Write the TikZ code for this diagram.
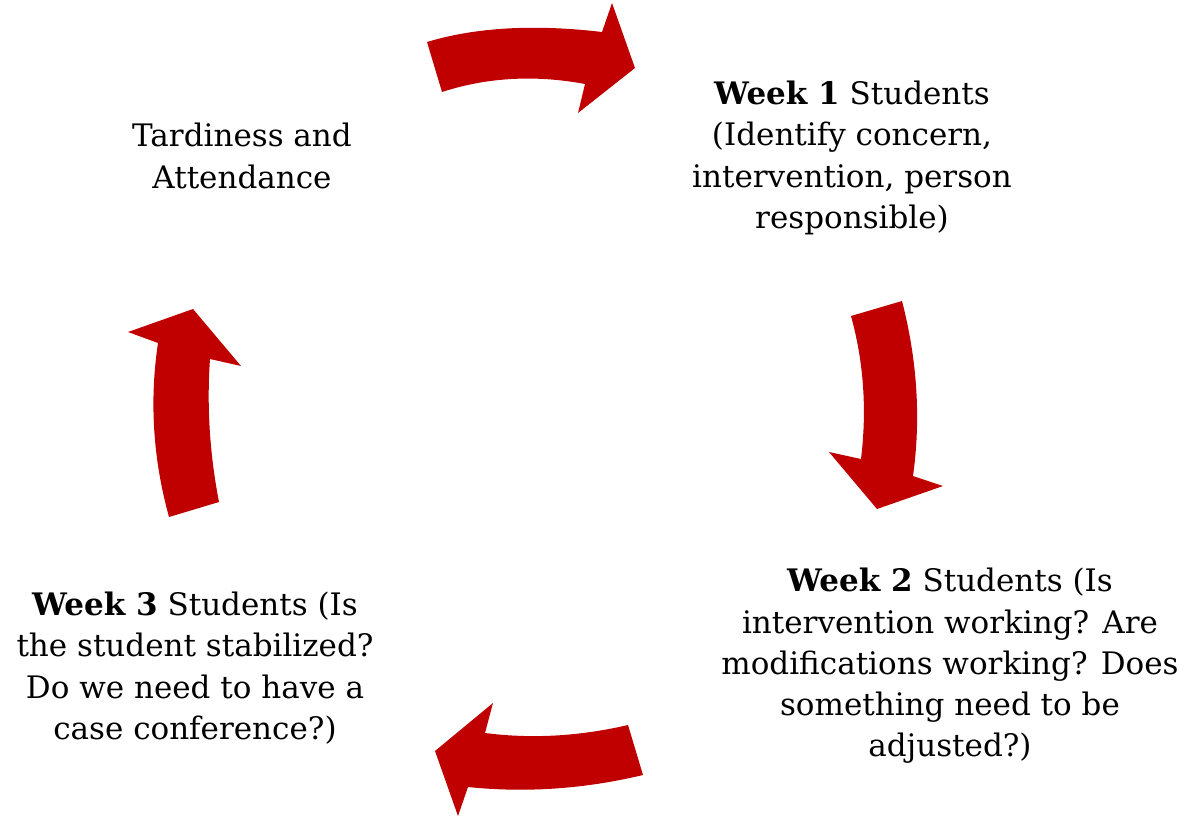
\documentclass[tikz,border=0pt]{standalone}
\usepackage{fontspec}
\setmainfont{DejaVu Serif}
\definecolor{arrowred}{RGB}{192,0,0}
\tikzset{
  steptext/.style={align=center, font=\fontsize{31}{41.3}\selectfont, inner sep=0pt},
  cyclearrow/.style={fill=arrowred, draw=none}
}
\begin{document}
\begin{tikzpicture}[x=1pt, y=-1pt]
    \useasboundingbox (0,0) rectangle (1185,816);
    % text at the four corners
    \node [steptext] (tardy) at (242,156) {Tardiness and\\Attendance};
    \node [steptext] (weekone) at (852,158) {\textbf{Week 1} Students\\(Identify concern,\\intervention, person\\responsible)};
    \node [steptext] (weektwo) at (950,666) {\textbf{Week 2} Students (Is\\intervention working? Are\\modifications working? Does\\something need to be\\adjusted?)};
    \node [steptext] (weekthree) at (195,668) {\textbf{Week 3} Students (Is\\the student stabilized?\\Do we need to have a\\case conference?)};
    % top arrow
    \fill [cyclearrow] (427,42) .. controls (475.7,27.3) and (534,24) .. (602,32) -- (612,3) -- (635,68)
      -- (578,113) -- (585,84) .. controls (535,74.7) and (487.3,77.3) .. (442,92) -- cycle;
    % right arrow
    \fill [cyclearrow] (851,316) -- (902,301) .. controls (917.3,360.3) and (921,418.7) .. (913,476) -- (943,486)
      -- (877,509) -- (829,452) -- (861,459) .. controls (867,409.7) and (863.7,362) .. cycle;
    % bottom arrow
    \fill [cyclearrow] (643,775) -- (628,725) .. controls (579.3,736.3) and (531.7,739) .. (485,733) -- (493,703)
      -- (435,751) -- (458,816) -- (468,787) .. controls (526,793) and (584.3,789) .. cycle;
    % left arrow
    \fill [cyclearrow] (169,517) .. controls (153,459) and (149.3,401) .. (158,343) -- (128,332) -- (193,309)
      -- (241,366) -- (210,359) .. controls (206.7,406.3) and (209.7,454) .. (219,502) -- cycle;
  \end{tikzpicture}
\end{document}
